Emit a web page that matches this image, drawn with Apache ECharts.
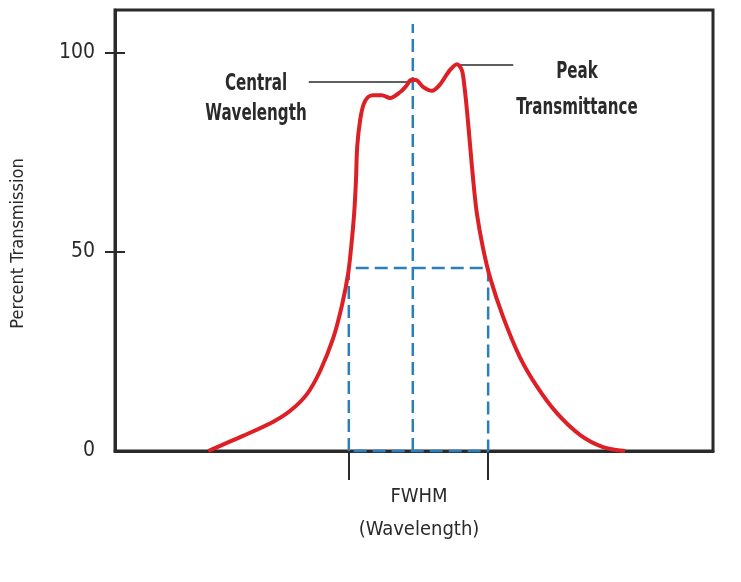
<!DOCTYPE html>
<html>
<head>
<meta charset="utf-8">
<title>Percent Transmission</title>
<script src="https://cdn.jsdelivr.net/npm/echarts@6/dist/echarts.min.js"></script>
<style>
  html, body { margin: 0; padding: 0; background: #fff; }
  #chart { width: 741px; height: 582px; }
</style>
</head>
<body>
<div id="chart"></div>
<script>
// wavelength in arbitrary units (0-100 across the plot), transmission in %
const curveX = [15.6, 21.4, 26.4, 29.3, 32.1, 34.3, 36.5, 38.0, 39.0, 39.5, 40.0, 40.3, 40.5, 41.0, 41.6, 42.3, 43.1, 44.6, 46.0, 47.7, 48.7, 49.5, 50.3, 51.5, 53.0, 54.3, 56.0, 57.2, 58.0, 58.4, 58.9, 59.4, 59.9, 60.5, 61.5, 62.7, 64.9, 67.7, 70.6, 73.9, 77.8, 81.6, 85.3];
const curveY = [0, 3.8, 7.3, 10.1, 14.3, 20.1, 28.4, 36.9, 44.7, 51.3, 59.8, 68.1, 76.4, 83.2, 87.2, 88.9, 89.4, 89.4, 88.7, 90.2, 91.7, 93.2, 93.2, 91.5, 90.5, 92.0, 95.7, 97.2, 95.7, 92.0, 84.9, 76.4, 68.1, 59.8, 51.3, 43.7, 33.7, 23.6, 16.1, 9.5, 4.0, 1.0, 0];

const fwhmLeft = 39.1;
const fwhmRight = 62.4;
const halfLevel = 46.0;
const centerX = 49.8;
const centerTop = 107.3;

// leader lines for the two annotations
const centralLeader = [[32.4, 92.7], [49.6, 92.7]];
const peakLeader = [[57.2, 97.0], [66.6, 97.0]];

const yTicks = [50, 100];

const curveData = curveX.map((x, i) => [x, curveY[i]]);
const fwhmBox = [[fwhmLeft, 0], [fwhmLeft, halfLevel], [fwhmRight, halfLevel], [fwhmRight, 0], [fwhmLeft, 0]];
const centerLine = [[centerX, 0], [centerX, centerTop]];

const FONT = '"DejaVu Sans Condensed", "Liberation Sans Narrow", sans-serif';
const blue = '#2a7fbf';
const ink = '#2a2a2a';

const chart = echarts.init(document.getElementById('chart'));

const option = {
  animation: false,
  grid: {
    left: 115,
    right: 28,
    top: 10,
    bottom: 131,
    show: true,
    borderColor: ink,
    borderWidth: 3
  },
  xAxis: {
    type: 'value',
    min: 0,
    max: 100,
    name: 'FWHM\n(Wavelength)',
    nameLocation: 'middle',
    nameGap: 29,
    nameTextStyle: {
      fontFamily: FONT,
      fontSize: 20,
      color: ink,
      lineHeight: 33,
      padding: [0, 0, 0, 10]
    },
    axisLine: { lineStyle: { color: ink, width: 3 } },
    axisTick: {
      show: true,
      customValues: [fwhmLeft, fwhmRight],
      length: 29,
      lineStyle: { color: ink, width: 2 }
    },
    axisLabel: { show: false },
    splitLine: { show: false }
  },
  yAxis: [
    {
      type: 'value',
      min: 0,
      max: 110.8,
      interval: 50,
      name: 'Percent Transmission',
      nameLocation: 'middle',
      nameGap: 88,
      nameTextStyle: {
        fontFamily: FONT,
        fontSize: 18,
        color: ink,
        padding: [0, 26, 0, 0]
      },
      axisLine: { lineStyle: { color: ink, width: 3 } },
      axisTick: { show: false },
      axisLabel: {
        margin: 20,
        showMaxLabel: false,
        fontFamily: FONT,
        fontSize: 21,
        color: ink
      },
      splitLine: { show: false }
    },
    {
      // shifted copy of the axis, only for the ticks that cross the axis line
      type: 'value',
      min: 0,
      max: 110.8,
      position: 'left',
      offset: -10,
      axisLine: { show: true, lineStyle: { opacity: 0 } },
      axisTick: {
        show: true,
        customValues: yTicks,
        length: 20,
        lineStyle: { color: ink, width: 2 }
      },
      axisLabel: { show: false },
      splitLine: { show: false }
    }
  ],
  series: [
    {
      name: 'FWHM',
      type: 'line',
      data: fwhmBox,
      symbol: 'none',
      clip: false,
      z: 3,
      lineStyle: { color: blue, width: 2.5, type: [13, 6] }
    },
    {
      name: 'Center',
      type: 'line',
      data: centerLine,
      symbol: 'none',
      clip: false,
      z: 3,
      lineStyle: { color: blue, width: 2.5, type: [13, 6] }
    },
    {
      name: 'Central leader',
      type: 'line',
      data: centralLeader,
      symbol: 'none',
      z: 4,
      lineStyle: { color: ink, width: 1.5 }
    },
    {
      name: 'Peak leader',
      type: 'line',
      data: peakLeader,
      symbol: 'none',
      z: 4,
      lineStyle: { color: ink, width: 1.5 }
    },
    {
      name: 'Transmission',
      type: 'line',
      data: curveData,
      symbol: 'none',
      smooth: 0.3,
      clip: false,
      z: 5,
      lineStyle: { color: '#dd1f26', width: 4 }
    }
  ],
  graphic: [
    {
      type: 'text',
      x: 256,
      y: 69,
      scaleX: 0.73,
      style: {
        text: 'Central\nWavelength',
        align: 'center',
        verticalAlign: 'top',
        fontFamily: FONT,
        fontWeight: 'bold',
        fontSize: 23,
        lineHeight: 30,
        fill: ink
      }
    },
    {
      type: 'text',
      x: 577,
      y: 54,
      scaleX: 0.73,
      style: {
        text: 'Peak\nTransmittance',
        align: 'center',
        verticalAlign: 'top',
        fontFamily: FONT,
        fontWeight: 'bold',
        fontSize: 23,
        lineHeight: 36,
        fill: ink
      }
    }
  ]
};

chart.setOption(option);
</script>
</body>
</html>
